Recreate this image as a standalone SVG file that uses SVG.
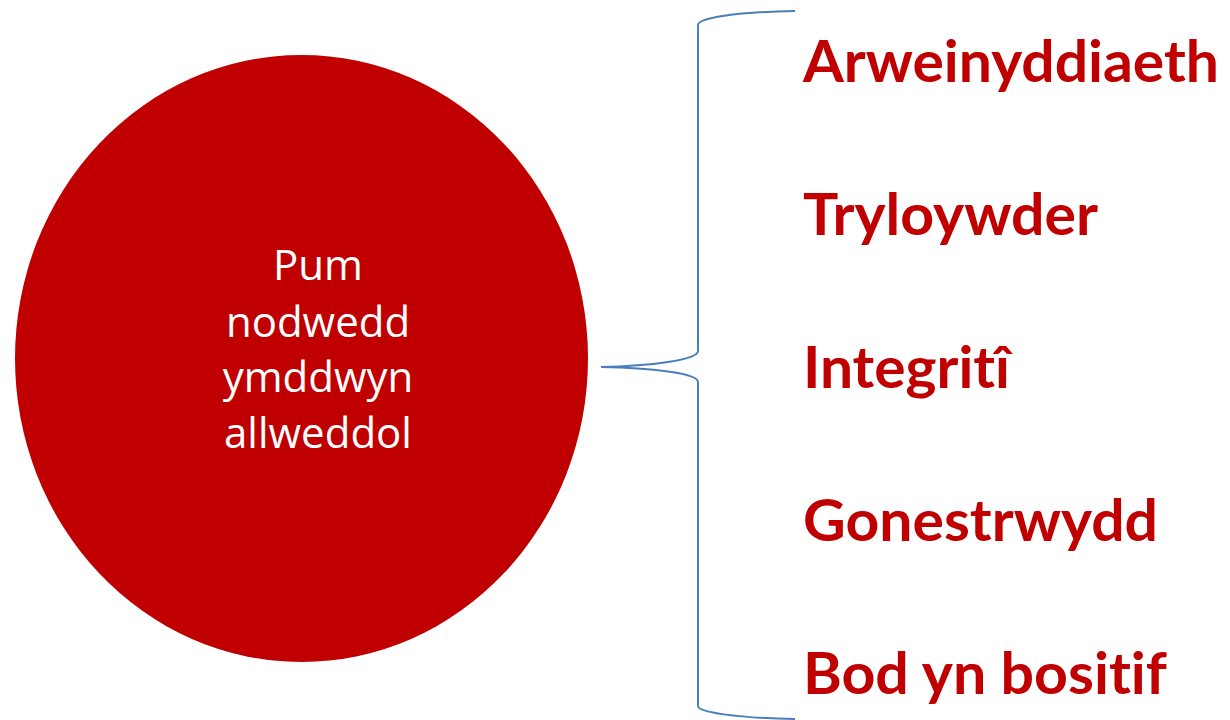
<svg xmlns="http://www.w3.org/2000/svg" width="1230" height="720" viewBox="0 0 1230 720">
<style>
.lbl{font-family:Lato,"Open Sans","Liberation Sans",sans-serif;font-weight:bold;font-size:57px;fill:#C00000;font-variant-ligatures:none;font-feature-settings:"liga" 0,"dlig" 0}
.ctr{font-family:"Open Sans","Liberation Sans",sans-serif;font-size:42px;fill:#FFFFFF;text-anchor:middle}
.brace{fill:none;stroke:#4A7EBB;stroke-width:2}
</style>
<rect width="1230" height="720" fill="#FFFFFF"/>
<g id="circle">
<ellipse cx="301.5" cy="358.5" rx="286.5" ry="303.5" fill="#C00000"/>
<text class="ctr" x="318" y="280">Pum</text>
<text class="ctr" x="318" y="337">nodwedd</text>
<text class="ctr" x="318" y="392">ymddwyn</text>
<text class="ctr" x="318" y="448">allweddol</text>
</g>
<g id="connectors">
<path class="brace" d="M795,11 C735,12 698,18 698,25 L698,351 C698,360 650,366 601,367 C650,368 698,373 698,382 L698,706 C698,712 735,718 795,719"/>
</g>
<g id="label1"><text class="lbl" x="803" y="82" textLength="416" lengthAdjust="spacingAndGlyphs">Arweinyddiaeth</text></g>
<g id="label2"><text class="lbl" x="803" y="235" textLength="295" lengthAdjust="spacingAndGlyphs">Tryloywder</text></g>
<g id="label3"><text class="lbl" x="803" y="388" textLength="207" lengthAdjust="spacingAndGlyphs">Integritî</text></g>
<g id="label4"><text class="lbl" x="803" y="541" textLength="355" lengthAdjust="spacingAndGlyphs">Gonestrwydd</text></g>
<g id="label5"><text class="lbl" x="803" y="694" textLength="364" lengthAdjust="spacingAndGlyphs">Bod yn bositif</text></g>
</svg>
